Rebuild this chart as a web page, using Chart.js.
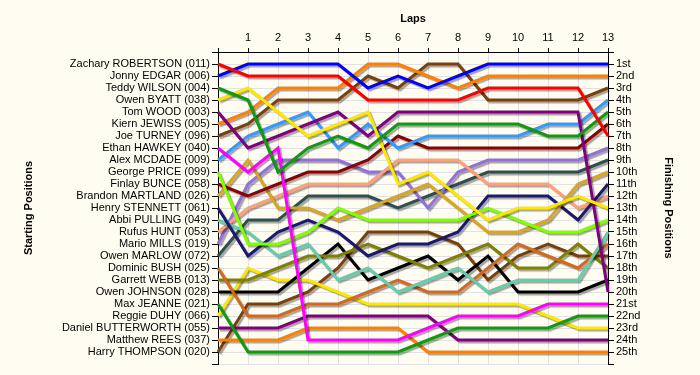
<!DOCTYPE html>
<html>
<head>
<meta charset="utf-8">
<script src="https://cdn.jsdelivr.net/npm/chart.js@4"></script>
<style>
  html, body { margin: 0; padding: 0; background: #fffdf2; }
  #wrap { width: 700px; height: 375px; position: relative; }
</style>
</head>
<body>
<div id="wrap"><canvas id="lapChart"></canvas></div>
<script>
// laps across the top
const laps = [0, 1, 2, 3, 4, 5, 6, 7, 8, 9, 10, 11, 12, 13];

// starting grid, in order
const drivers = [
  "Zachary ROBERTSON (011)", "Jonny EDGAR (006)", "Teddy WILSON (004)", "Owen BYATT (038)",
  "Tom WOOD (003)", "Kiern JEWISS (005)", "Joe TURNEY (096)", "Ethan HAWKEY (040)",
  "Alex MCDADE (009)", "George PRICE (099)", "Finlay BUNCE (058)", "Brandon MARTLAND (026)",
  "Henry STENNETT (061)", "Abbi PULLING (049)", "Rufus HUNT (053)", "Mario MILLS (019)",
  "Owen MARLOW (072)", "Dominic BUSH (025)", "Garrett WEBB (013)", "Owen JOHNSON (028)",
  "Max JEANNE (021)", "Reggie DUHY (066)", "Daniel BUTTERWORTH (055)", "Matthew REES (037)",
  "Harry THOMPSON (020)"
];

const finishLabels = [
  "1st", "2nd", "3rd", "4th", "5th", "6th", "7th", "8th", "9th", "10th", "11th", "12th", "13th",
  "14th", "15th", "16th", "17th", "18th", "19th", "20th", "21st", "22nd", "23rd", "24th", "25th"
];

// position of each driver at the end of each lap (lap 0 = grid)
const robertson   = [1, 2, 2, 2, 2, 4, 4, 4, 4, 3, 3, 3, 3, 7];
const edgar       = [2, 1, 1, 1, 1, 3, 2, 3, 2, 1, 1, 1, 1, 1];
const wilson      = [3, 4, 10, 8, 7, 8, 6, 6, 6, 6, 6, 7, 7, 5];
const byatt       = [4, 3, 5, 7, 6, 5, 11, 10, 12, 14, 13, 13, 12, 13];
const wood        = [5, 8, 7, 6, 5, 7, 5, 5, 5, 5, 5, 5, 5, 20];
const jewiss      = [6, 5, 3, 3, 3, 1, 1, 2, 3, 2, 2, 2, 2, 2];
const turney      = [7, 6, 4, 4, 4, 2, 3, 1, 1, 4, 4, 4, 4, 3];
const hawkey      = [8, 10, 8, 24, 24, 24, 24, 23, 22, 22, 22, 21, 21, 21];
const mcdade      = [9, 7, 6, 5, 8, 6, 8, 7, 7, 7, 7, 6, 6, 4];
const price       = [10, 16, 16, 15, 13, 14, 14, 14, 14, 13, 14, 15, 15, 14];
const bunce       = [11, 12, 11, 10, 10, 9, 7, 8, 8, 8, 8, 8, 8, 6];
const martland    = [12, 9, 13, 13, 14, 13, 12, 11, 13, 15, 15, 14, 11, 10];
const stennett    = [13, 17, 15, 14, 15, 17, 16, 16, 15, 12, 12, 12, 14, 11];
const pulling     = [14, 15, 17, 16, 19, 18, 20, 19, 18, 20, 19, 19, 19, 15];
const hunt        = [15, 13, 12, 11, 11, 11, 9, 9, 9, 11, 11, 11, 13, 12];
const mills       = [16, 11, 9, 9, 9, 10, 10, 13, 10, 9, 9, 9, 9, 8];
const marlow      = [17, 14, 14, 12, 12, 12, 13, 12, 11, 10, 10, 10, 10, 9];
const bush        = [18, 22, 22, 21, 21, 20, 19, 20, 20, 18, 16, 17, 18, 16];
const webb        = [19, 19, 18, 17, 17, 16, 17, 18, 17, 16, 18, 18, 16, 18];
const johnson     = [20, 20, 20, 18, 16, 19, 18, 17, 19, 17, 20, 20, 20, 19];
const jeanne      = [21, 25, 25, 25, 25, 25, 25, 24, 23, 23, 23, 23, 22, 22];
const duhy        = [22, 18, 19, 19, 20, 21, 21, 21, 21, 21, 21, 22, 23, 23];
const butterworth = [23, 23, 23, 22, 22, 22, 22, 22, 24, 24, 24, 24, 24, 24];
const rees        = [24, 24, 24, 23, 23, 23, 23, 25, 25, 25, 25, 25, 25, 25];
const thompson    = [25, 21, 21, 20, 18, 15, 15, 15, 16, 19, 17, 16, 17, 17];

const series = [robertson, edgar, wilson, byatt, wood, jewiss, turney, hawkey, mcdade, price,
  bunce, martland, stennett, pulling, hunt, mills, marlow, bush, webb, johnson,
  jeanne, duhy, butterworth, rees, thompson];

const colours = [
  "#ff0000", "#0000ff", "#109a10", "#ffe800", "#800080", "#ff8000", "#7a400a", "#ff00ff",
  "#3399ff", "#80ff00", "#8b0000", "#daa520", "#191970", "#66cdaa", "#ffa07a", "#9370db",
  "#2f4f4f", "#d2691e", "#808000", "#000000", "#109a10", "#ffe800", "#800080", "#ff8000",
  "#7a400a"
];

Chart.defaults.font.family = "'Liberation Sans', Arial, sans-serif";
Chart.defaults.font.size = 11;
Chart.defaults.color = "#000";

const bgPlugin = {
  id: "bg",
  beforeDraw(chart) {
    const c = chart.ctx;
    c.save();
    c.fillStyle = "#fffdf2";
    c.fillRect(0, 0, chart.width, chart.height);
    c.restore();
  }
};

// grey drop shadow under each line
const shadowPlugin = {
  id: "shadow",
  beforeDatasetsDraw(chart) {
    const c = chart.ctx;
    c.save();
    c.shadowColor = "rgba(0,0,0,0.35)";
    c.shadowOffsetX = 2;
    c.shadowOffsetY = 2;
    c.shadowBlur = 1;
  },
  afterDatasetsDraw(chart) {
    chart.ctx.restore();
  }
};

const datasets = series.map((s, i) => ({
  label: drivers[i],
  data: s,
  borderColor: colours[i],
  backgroundColor: colours[i],
  borderWidth: 3,
  pointRadius: 0,
  tension: 0,
  fill: false,
  yAxisID: "y"
}));

new Chart(document.getElementById("lapChart"), {
  type: "line",
  data: { labels: laps, datasets },
  options: {
    responsive: true,
    maintainAspectRatio: false,
    animation: false,
    layout: { padding: { left: 0, right: 0, top: 0, bottom: 11 } },
    plugins: { legend: { display: false }, tooltip: { enabled: false } },
    scales: {
      x: {
        type: "category",
        position: "top",
        offset: false,
        border: { color: "#000" },
        grid: { color: "#e2e2e2", tickColor: "#000", tickLength: 4 },
        ticks: {
          padding: 3,
          autoSkip: false,
          maxRotation: 0,
          callback: (v, i) => (i === 0 ? "" : String(laps[i]))
        },
        title: { display: true, text: "Laps", font: { weight: "bold" }, padding: { top: 12, bottom: 0 } },
        afterFit(scale) { scale.height = 52; }
      },
      y: {
        type: "linear",
        position: "left",
        reverse: true,
        min: 0,
        max: 26,
        border: { color: "#000" },
        grid: { color: "#e2e2e2", tickColor: "#000", tickLength: 6 },
        ticks: {
          stepSize: 1,
          autoSkip: false,
          padding: 2,
          callback: (v) => (v >= 1 && v <= 25 ? drivers[v - 1] : "")
        },
        title: { display: true, text: "Starting Positions", font: { weight: "bold" }, padding: { top: 22, bottom: 0 } },
        afterFit(scale) { scale.width = 218; }
      },
      y2: {
        type: "linear",
        position: "right",
        reverse: true,
        min: 0,
        max: 26,
        border: { color: "#000" },
        grid: { drawOnChartArea: false, tickColor: "#000", tickLength: 6 },
        ticks: {
          stepSize: 1,
          autoSkip: false,
          padding: 2,
          callback: (v) => (v >= 1 && v <= 25 ? finishLabels[v - 1] : "")
        },
        title: { display: true, text: "Finishing Positions", font: { weight: "bold" }, padding: { top: 25, bottom: 0 } },
        afterFit(scale) { scale.width = 92; }
      }
    }
  },
  plugins: [bgPlugin, shadowPlugin]
});
</script>
</body>
</html>
